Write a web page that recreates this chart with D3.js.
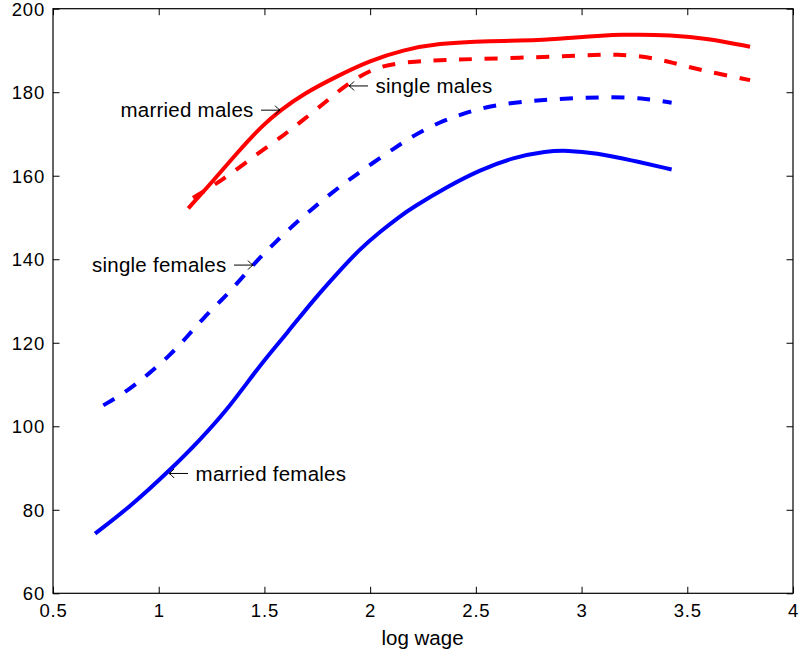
<!DOCTYPE html>
<html>
<head>
<meta charset="utf-8">
<script src="https://cdn.jsdelivr.net/npm/d3@7"></script>
<style>
  html, body { margin: 0; padding: 0; background: #fff; }
  svg { display: block; font-family: "Liberation Sans", Arial, Helvetica, sans-serif; }
</style>
</head>
<body>
<svg id="chart" width="802" height="658"></svg>
<script>
// ---- data ----
const xTicks = [0.5, 1, 1.5, 2, 2.5, 3, 3.5, 4];
const xTickLabels = ["0.5", "1", "1.5", "2", "2.5", "3", "3.5", "4"];
const yTicks = [60, 80, 100, 120, 140, 160, 180, 200];
const yTickLabels = ["60", "80", "100", "120", "140", "160", "180", "200"];
const xLabel = "log wage";

const marriedMalesX = [1.140,1.258,1.369,1.495,1.574,1.684,1.842,2.0,2.157,2.315,2.567,2.803,2.959,3.196,3.432,3.593,3.797];
const marriedMalesY = [152.2,158.8,165.4,172.3,175.6,179.6,183.8,187.6,190.1,191.7,192.3,192.4,193.1,193.9,193.7,192.9,190.9];

const singleMalesX = [1.162,1.295,1.479,1.583,1.682,1.815,1.876,2.028,2.217,2.378,2.472,2.803,3.04,3.168,3.31,3.432,3.56,3.797];
const singleMalesY = [154.7,158.7,165.7,169.4,173.3,178.7,181.4,186.4,187.4,187.8,187.9,188.4,188.9,189.1,188.5,187.1,185.3,182.9];

const singleFemalesX = [0.738,0.856,0.954,1.053,1.132,1.214,1.298,1.376,1.463,1.542,1.629,1.719,1.818,1.916,2.010,2.118,2.204,2.330,2.441,2.567,2.709,2.914,3.150,3.308,3.426];
const singleFemalesY = [105.0,108.6,112.6,117.0,121.3,126.1,130.2,134.5,139.6,143.6,147.8,151.8,155.9,159.6,163.0,166.7,169.6,172.9,174.9,176.7,177.7,178.5,178.9,178.5,177.5];

const marriedFemalesX = [0.699,0.864,1.053,1.195,1.322,1.416,1.511,1.605,1.731,1.842,1.952,2.047,2.141,2.204,2.362,2.520,2.677,2.835,2.930,3.072,3.229,3.426];
const marriedFemalesY = [74.3,80.7,89.5,96.7,103.9,110.3,116.6,122.2,130.2,136.5,142.5,146.6,150.3,152.5,157.3,161.4,164.4,165.9,166.1,165.4,163.8,161.5];

// annotations: label, arrow tip point (data coords), side of the arrow
const annLabels = ["married males", "single males", "single females", "married females"];
const annX = [1.574, 1.900, 1.446, 1.049];
const annY = [175.7, 181.5, 138.6, 88.7];
const annSide = ["right", "left", "right", "left"];

// ---- layout ----
const W = 802, H = 658;
const margin = {left: 53, top: 8.7, right: 9, bottom: 64.7};
const svg = d3.select("#chart");

const x = d3.scaleLinear().domain([0.5, 4]).range([margin.left, W - margin.right]);
const y = d3.scaleLinear().domain([60, 200]).range([H - margin.bottom, margin.top]);

const tickFont = "18.5px";
const tickLen = 6.5;

// ---- axes (MATLAB-like box with inward ticks) ----
const xAxisB = d3.axisBottom(x).tickValues(xTicks)
  .tickFormat((d, i) => xTickLabels[i]).tickSizeInner(-tickLen).tickSizeOuter(0).tickPadding(11);
const xAxisT = d3.axisTop(x).tickValues(xTicks).tickFormat("").tickSizeInner(-tickLen).tickSizeOuter(0);
const yAxisL = d3.axisLeft(y).tickValues(yTicks)
  .tickFormat((d, i) => yTickLabels[i]).tickSizeInner(-tickLen).tickSizeOuter(0).tickPadding(8);
const yAxisR = d3.axisRight(y).tickValues(yTicks).tickFormat("").tickSizeInner(-tickLen).tickSizeOuter(0);

function styleAxis(g) {
  g.select(".domain").remove();
  g.selectAll(".tick line").attr("stroke", "#000").attr("stroke-width", 1);
  g.selectAll(".tick text").attr("fill", "#000")
    .style("font-size", tickFont).style("letter-spacing", "0.8px")
    .style("font-family", '"Liberation Sans", Arial, Helvetica, sans-serif');
}

svg.append("g").attr("transform", `translate(0,${y(60)})`).call(xAxisB).call(styleAxis)
  .selectAll(".tick text").attr("dy", "0.71em");
svg.append("g").attr("transform", `translate(0,${y(200)})`).call(xAxisT).call(styleAxis);
svg.append("g").attr("transform", `translate(${x(0.5)},0)`).call(yAxisL).call(styleAxis)
  .selectAll(".tick text").attr("dy", "0.35em");
svg.append("g").attr("transform", `translate(${x(4)},0)`).call(yAxisR).call(styleAxis);

// box
svg.append("rect")
  .attr("x", x(0.5)).attr("y", y(200))
  .attr("width", x(4) - x(0.5)).attr("height", y(60) - y(200))
  .attr("fill", "none").attr("stroke", "#000").attr("stroke-width", 1.2);

// x label
svg.append("text")
  .attr("x", (x(0.5) + x(4)) / 2 - 0.5).attr("y", H - 13)
  .attr("text-anchor", "middle")
  .style("font-size", "20.5px")
  .text(xLabel);

// ---- lines ----
const line = d3.line().x(d => x(d[0])).y(d => y(d[1])).curve(d3.curveBasis);
const zip = (a, b) => a.map((v, i) => [v, b[i]]);

const series = [
  {xs: marriedFemalesX, ys: marriedFemalesY, color: "#0000ff", dash: null},
  {xs: singleFemalesX, ys: singleFemalesY, color: "#0000ff", dash: "13,12.7"},
  {xs: singleMalesX, ys: singleMalesY, color: "#ff0000", dash: "13,12.7"},
  {xs: marriedMalesX, ys: marriedMalesY, color: "#ff0000", dash: null}
];

svg.append("g").selectAll("path").data(series).join("path")
  .attr("d", s => line(zip(s.xs, s.ys)))
  .attr("fill", "none")
  .attr("stroke", s => s.color)
  .attr("stroke-width", 4)
  .attr("stroke-dasharray", s => s.dash);

// ---- annotations (text + TeX-like arrow) ----
const arrowLen = 19, gap = 7.5;
const ann = svg.append("g");
annLabels.forEach((lab, i) => {
  const px = x(annX[i]), py = y(annY[i]);
  const dir = annSide[i] === "right" ? 1 : -1; // arrow points right (1) or left (-1)
  const tail = px - dir * arrowLen;
  // shaft
  ann.append("path")
    .attr("d", `M${tail},${py}L${px},${py}`)
    .attr("stroke", "#000").attr("stroke-width", 1).attr("fill", "none");
  // head (curved barbs)
  ann.append("path")
    .attr("d", `M${px - dir * 5},${py - 4.5}Q${px - dir * 2},${py - 1} ${px},${py}Q${px - dir * 2},${py + 1} ${px - dir * 5},${py + 4.5}`)
    .attr("stroke", "#000").attr("stroke-width", 1).attr("fill", "none");
  ann.append("text")
    .attr("x", tail - dir * gap).attr("y", py).attr("dy", "0.35em")
    .attr("text-anchor", dir === 1 ? "end" : "start")
    .style("font-size", "20.5px").style("letter-spacing", "0.25px")
    .attr("fill", "#000")
    .text(lab);
});
</script>
</body>
</html>
